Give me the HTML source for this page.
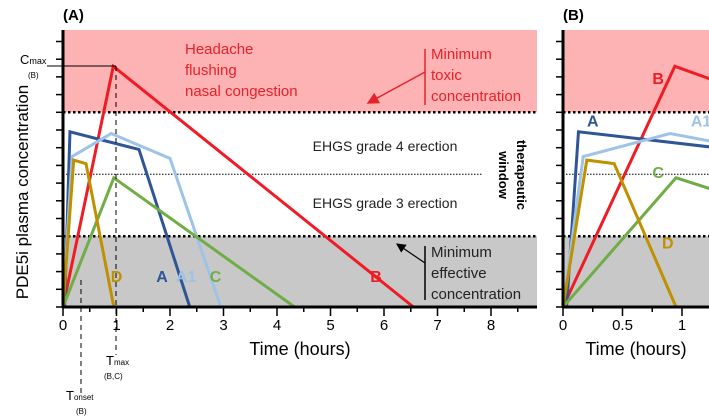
<!DOCTYPE html>
<html><head><meta charset="utf-8"><style>
body{margin:0;background:#fff}
svg{display:block;font-family:"Liberation Sans",sans-serif}
</style></head><body>
<svg id="chart" width="709" height="420" viewBox="0 0 709 420">
<defs>
<clipPath id="clipA"><rect x="63" y="30" width="474" height="278"/></clipPath>
<clipPath id="clipB"><rect x="563" y="30" width="146" height="278"/></clipPath>
<marker id="arR" markerWidth="8" markerHeight="8" refX="7" refY="4" orient="auto"><path d="M0,0 L8,4 L0,8 z" fill="#e8222a"/></marker>
<marker id="arK" markerWidth="8" markerHeight="8" refX="7" refY="4" orient="auto"><path d="M0,0 L8,4 L0,8 z" fill="#000"/></marker>
</defs>
<g id="panels"></g>
<text x="63" y="20" font-size="15" font-weight="bold">(A)</text>
<text x="563" y="20" font-size="15" font-weight="bold">(B)</text>
<text transform="translate(28,192) rotate(-90)" text-anchor="middle" font-size="17">PDE5i plasma concentration</text>
<g fill="#e8222a" font-size="15">
<text x="185" y="54">Headache</text><text x="185" y="75">flushing</text><text x="185" y="96">nasal congestion</text></g>
<line x1="425" y1="49" x2="425" y2="105" stroke="#e8222a" stroke-width="1.5"/>
<line x1="425" y1="72" x2="368" y2="103" stroke="#e8222a" stroke-width="1.5" marker-end="url(#arR)"/>
<g fill="#e8222a" font-size="15">
<text x="431" y="59">Minimum</text><text x="431" y="80">toxic</text><text x="431" y="101">concentration</text></g>
<text x="385" y="151" text-anchor="middle" font-size="14" fill="#222">EHGS grade 4 erection</text>
<text x="385" y="208" text-anchor="middle" font-size="14" fill="#222">EHGS grade 3 erection</text>
<g transform="translate(512,175) rotate(90)" font-size="13" font-weight="bold" text-anchor="middle">
<text x="0" y="-5">therapeutic</text><text x="0" y="13">window</text></g>
<line x1="425" y1="246" x2="425" y2="300" stroke="#000" stroke-width="1.5"/>
<line x1="425" y1="263" x2="397" y2="244" stroke="#000" stroke-width="1.2" marker-end="url(#arK)"/>
<g fill="#222" font-size="15">
<text x="431" y="257">Minimum</text><text x="431" y="278">effective</text><text x="431" y="299">concentration</text></g>
<line x1="47" y1="66" x2="116" y2="66" stroke="#000" stroke-width="1"/>
<text x="20" y="64" font-size="13">C<tspan font-size="9">max</tspan></text>
<text x="28" y="78" font-size="8">(B)</text>
<line x1="116" y1="66" x2="116" y2="355" stroke="#000" stroke-dasharray="5,4"/>
<line x1="81" y1="280" x2="81" y2="395" stroke="#000" stroke-dasharray="5,4"/>
<text x="106" y="365" font-size="13">T<tspan font-size="8">max</tspan></text>
<text x="104" y="379" font-size="8">(B,C)</text>
<text x="66" y="400" font-size="13">T<tspan font-size="8">onset</tspan></text>
<text x="76" y="414" font-size="8">(B)</text>
</svg>
<script>
const yTicks=[0,1,2,3,4,5,6,7,8,9,10,11,12,13,14,15];
const xTicksA=[0,1,2,3,4,5,6,7,8];
const xTicksB=[0,0.5,1];
const thresholds=[4,7.5,11];
const seriesNames=["B","A","A1","C","D"];
const tB=[0,0.94,6.55], cB=[0,13.6,0];
const tA=[0.03,0.13,1.42,2.37], cA=[0,9.9,8.9,0];
const tA1=[0,0.17,0.9,2,2.95], cA1=[0,8.5,9.8,8.4,0];
const tC=[0,0.95,4.33], cC=[0,7.3,0];
const tD=[0,0.2,0.43,0.95], cD=[0,8.3,8.1,0];
const colors={B:"#ee1c24",A:"#2f5597",A1:"#9dc3e6",C:"#70ad47",D:"#bf9000"};
const data={B:[tB,cB],A:[tA,cA],A1:[tA1,cA1],C:[tC,cC],D:[tD,cD]};
const NS="http://www.w3.org/2000/svg";
const root=document.getElementById("panels");
const Y0=307,YU=17.7;
const y=v=>Y0-v*YU;
function mk(tag,attrs,parent){const e=document.createElementNS(NS,tag);for(const k in attrs)e.setAttribute(k,attrs[k]);(parent||root).appendChild(e);return e;}
function panel(id,x0,pxh,right,ticks,clip,labelPos){
  const x=t=>x0+t*pxh;
  const g=mk("g",{});
  
  
  const pink=mk("rect",{x:x0,y:30,width:right-x0,height:y(thresholds[2])-30,fill:"#fdb2b4"},g);
  
  
  const gray=mk("rect",{x:x0,y:y(thresholds[0]),width:right-x0,height:Y0-y(thresholds[0]),fill:"#c8c8c8"},g);
  
  
  [thresholds[0],thresholds[2]].forEach(v=>{const l=mk("line",{x1:x0,x2:right,y1:y(v),y2:y(v),stroke:"#000","stroke-width":2.5,"stroke-dasharray":"2.5,2.5"},g);
  
  });
  const gl=mk("line",{x1:x0,x2:id==="panel-a"?482:right,y1:y(thresholds[1]),y2:y(thresholds[1]),stroke:"#000","stroke-width":1,"stroke-dasharray":"1.5,1.5"},g);
  
  
  const sg=mk("g",{"clip-path":"url(#"+clip+")"},g);
  seriesNames.forEach(n=>{const [ts,cs]=data[n];
    const p=mk("polyline",{points:ts.map((t,i)=>x(t)+","+y(cs[i])).join(" "),fill:"none",stroke:colors[n],"stroke-width":3,"stroke-linejoin":"miter"},sg);
    
    
    const lp=labelPos[n];
    const tx=mk("text",{x:x(lp[0]),y:y(lp[1]),fill:colors[n],"font-size":16,"font-weight":"bold","text-anchor":"middle"},sg);
    tx.textContent=n;
    
    
  });
  const ax=mk("g",{stroke:"#000"},g);
  
  
  mk("line",{x1:x0,x2:x0,y1:30,y2:Y0+1,"stroke-width":3},ax);
  mk("line",{x1:x0-1,x2:right,y1:Y0,y2:Y0,"stroke-width":3},ax);
  yTicks.forEach(v=>mk("line",{x1:x0-7,x2:x0,y1:y(v),y2:y(v),"stroke-width":1.5},ax));
  const step=ticks[1]-ticks[0];
  for(let t=0;x(t)<=right;t+=step/2){mk("line",{x1:x(t),x2:x(t),y1:Y0,y2:Y0+(Math.round(t/step*2)%2?5:9),"stroke-width":1.5},ax);}
  ticks.forEach(t=>{const tx=mk("text",{x:x(t),y:Y0+23,"font-size":15,"text-anchor":"middle"},g);tx.textContent=String(t);
    
    });
  const xt=mk("text",{x:id==="panel-a"?300:636,y:Y0+48,"font-size":18,"text-anchor":"middle"},g);
  xt.textContent="Time (hours)";
  
  
}
panel("panel-a",63,53.5,537,xTicksA,"clipA",{B:[5.85,1.4],A:[1.85,1.4],A1:[2.3,1.4],C:[2.85,1.4],D:[1,1.4]});
panel("panel-b",563,119,709,xTicksB,"clipB",{B:[0.8,12.6],A:[0.25,10.2],A1:[1.16,10.2],C:[0.8,7.3],D:[0.88,3.3]});
</script>
</body></html>
